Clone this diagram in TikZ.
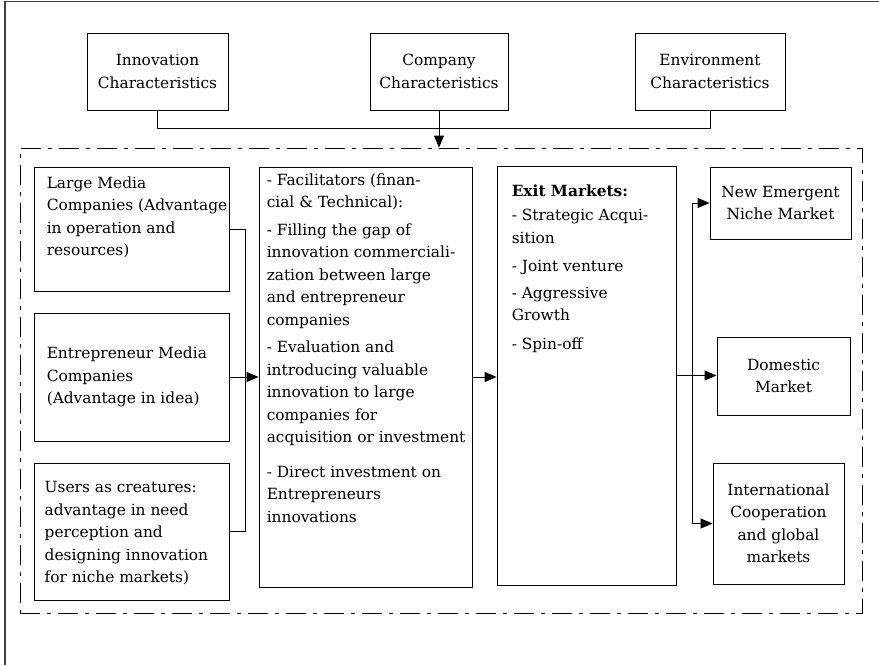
\documentclass[tikz,border=0pt]{standalone}
\usepackage{fontspec}
\setmainfont{DejaVu Serif}
\usetikzlibrary{arrows.meta}
\begin{document}
\begin{tikzpicture}[x=1pt,y=-1pt,
  box/.style={draw, line width=0.9pt, inner sep=0pt, font=\fontsize{15.4}{22.5}\selectfont, align=center},
  txt/.style={font=\fontsize{15.4}{22.5}\selectfont, inner sep=0pt, align=left},
  conn/.style={line width=0.9pt},
  arr/.style={line width=0.9pt, -{Triangle[length=12pt,width=10pt]}},
  dashframe/.style={draw, line width=0.9pt, dash pattern=on 20pt off 7pt on 4pt off 7pt, inner sep=0pt}
]
\useasboundingbox (0,0) rectangle (879,665);
% outer partial frame
\draw[line width=1.5pt, black!75] (5,665) -- (5,1.5) -- (879,1.5);

% top boxes
\node[box, minimum width=141pt, minimum height=77pt] (inn) at (157.5,71.5) {Innovation\\Characteristics};
\node[box, minimum width=138pt, minimum height=77pt] (comp) at (439,71.5) {Company\\Characteristics};
\node[box, minimum width=150pt, minimum height=77pt] (env) at (710,71.5) {Environment\\Characteristics};

% dash-dot frame
\node[dashframe, minimum width=842pt, minimum height=465pt] (frame) at (441,380.5) {};

% left boxes
\node[box, minimum width=195pt, minimum height=124pt] (lm) at (131.5,229) {};
\node[box, minimum width=195pt, minimum height=128pt] (ent) at (131.5,377) {};
\node[box, minimum width=195pt, minimum height=137pt] (usr) at (131.5,531.5) {};
\node[txt, anchor=north west] (lmt) at ([shift={(13,10)}]lm.north west) {Large Media\\Companies (Advantage\\in operation and\\resources)};
\node[txt, anchor=west] (entt) at ([shift={(13,0)}]ent.west) {Entrepreneur Media\\Companies\\(Advantage in idea)};
\node[txt, anchor=west] (usrt) at ([shift={(11,2)}]usr.west) {Users as creatures:\\advantage in need\\perception and\\designing innovation\\for niche markets)};

% middle boxes
\node[box, minimum width=213pt, minimum height=420pt] (fac) at (365.5,377) {};
\node[txt, anchor=north west] (fact) at ([shift={(8,7)}]fac.north west) {- Facilitators (finan-\\cial \& Technical):\\[5pt]- Filling the gap of\\innovation commerciali-\\zation between large\\and entrepreneur\\companies\\[5pt]- Evaluation and\\introducing valuable\\innovation to large\\companies for\\acquisition or investment\\[12pt]- Direct investment on\\Entrepreneurs\\innovations};

\node[box, minimum width=179pt, minimum height=419pt] (exit) at (586.5,375.5) {};
\node[txt, anchor=north west] (exitt) at ([shift={(15,19)}]exit.north west) {\textbf{Exit Markets:}\\[2pt]- Strategic Acqui-\\sition\\[6pt]- Joint venture\\[4pt]- Aggressive\\Growth\\[6pt]- Spin-off};

% right boxes
\node[box, minimum width=141pt, minimum height=72pt] (nem) at (780.5,203) {New Emergent\\Niche Market};
\node[box, minimum width=133pt, minimum height=78pt] (dom) at (783.5,376) {Domestic\\Market};
\node[box, minimum width=131pt, minimum height=121pt] (intl) at (778.5,523.5) {International\\Cooperation\\and global\\markets};

% connectors
\coordinate (bus) at (0,128);
\draw[conn] (inn.south) -- (inn.south |- bus) -- (env.south |- bus) -- (env.south);
\draw[arr] (comp.south) -- (comp.south |- frame.north);

\coordinate (lbus) at (245,0);
\draw[conn] (lm.east) -- (lm.east -| lbus) -- (usr.east -| lbus) -- (usr.east);
\draw[arr] (ent.east) -- (ent.east -| fac.west);
\draw[arr] (fac.east) -- (fac.east -| exit.west);

\coordinate (rbus) at (692,0);
\draw[arr] (exit.east) -- (exit.east -| dom.west);
\draw[arr] (nem.west -| rbus) -- (nem.west);
\draw[arr] (nem.west -| rbus) -- (intl.west -| rbus) -- (intl.west);
\end{tikzpicture}
\end{document}
